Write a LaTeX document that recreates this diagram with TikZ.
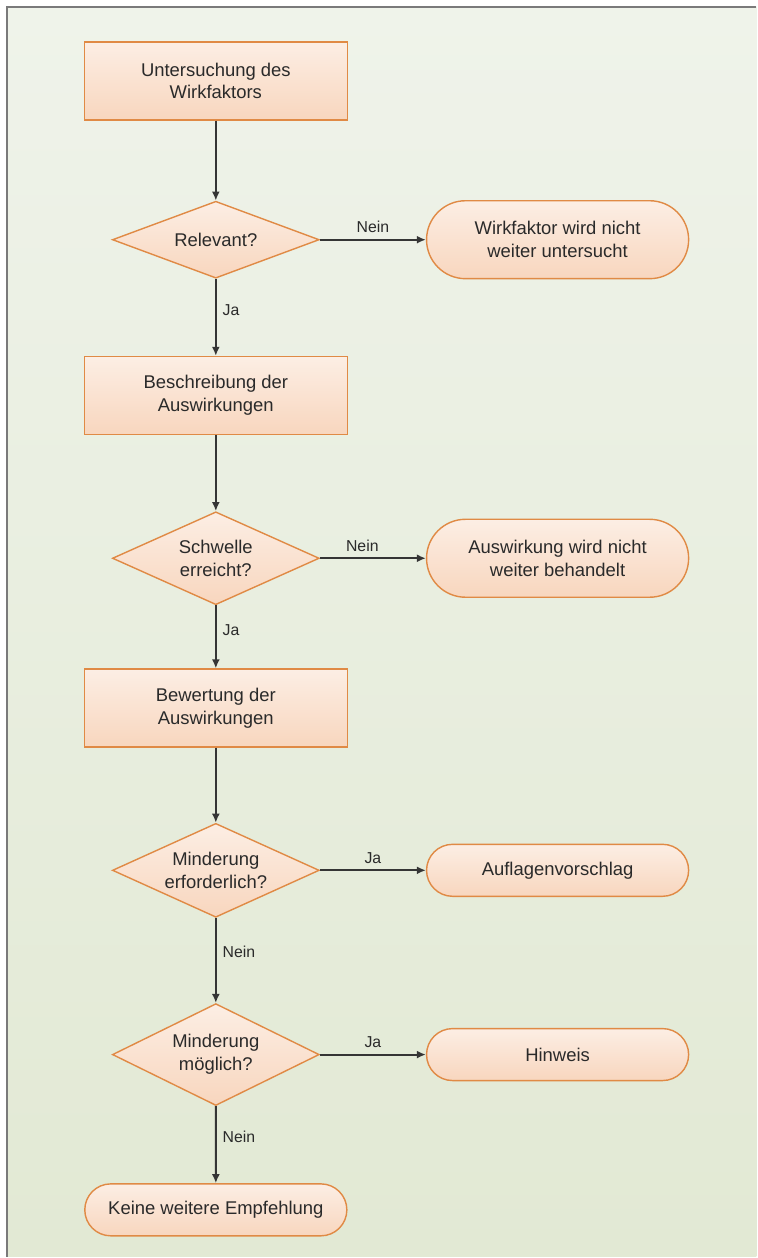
\documentclass[tikz,border=0pt]{standalone}
\usepackage{fontspec}
\setmainfont{Liberation Sans}
\usepackage{xcolor}
\usepackage{tikz}
\usetikzlibrary{arrows.meta,positioning,shapes.geometric,shapes.misc}
\definecolor{nodetop}{HTML}{FCEEE4}
\definecolor{nodebottom}{HTML}{F8D6BE}
\definecolor{nodeline}{HTML}{E08A45}
\definecolor{linegray}{HTML}{353535}
\definecolor{textgray}{HTML}{2A2A2A}
\definecolor{bgtop}{HTML}{EFF3EA}
\definecolor{bgbottom}{HTML}{E2E9D4}
\definecolor{framegray}{HTML}{7A7A7A}

\begin{document}
\begin{tikzpicture}[
  x=0.2mm, y=-0.2mm,
  box/.style={draw=nodeline, thick, top color=nodetop, bottom color=nodebottom, align=center, minimum width=52.6mm, minimum height=15.6mm, font=\fontsize{10.5}{13}\selectfont, text=textgray},
  decision/.style={box, shape=diamond, shape aspect=2.25, inner sep=0pt, minimum width=41.4mm, minimum height=15.4mm},
  terminal/.style={box, rounded rectangle, minimum width=54.8mm},
  arrow/.style={-{Latex[length=1.8mm,width=1.6mm]}, line width=1.1pt, draw=linegray},
  lbl/.style={font=\fontsize{9}{11}\selectfont, text=textgray}]
% background and frame
\fill[white] (0,0) rectangle (757,1258);
\shade[top color=bgtop, bottom color=bgbottom] (7,7) rectangle (757,1258);
\draw[framegray, line width=1.2pt] (7,1258) -- (7,7) -- (757,7);
\useasboundingbox (0,0) rectangle (757,1258);
% main column
\node[box] (untersuchung) at (216,81) {Untersuchung des\\Wirkfaktors};
\node[decision, below=16mm of untersuchung] (relevant) {Relevant?};
\node[terminal, right=21.2mm of relevant] (nichtunters) {Wirkfaktor wird nicht\\weiter untersucht};
\node[box, below=15.4mm of relevant] (beschreibung) {Beschreibung der\\Auswirkungen};
\node[decision, below=15.2mm of beschreibung, minimum height=18.6mm] (schwelle) {Schwelle\\erreicht?};
\node[terminal, right=21.2mm of schwelle] (nichtbeh) {Auswirkung wird nicht\\weiter behandelt};
\node[box, below=12.6mm of schwelle] (bewertung) {Bewertung der\\Auswirkungen};
\node[decision, below=15.0mm of bewertung, minimum height=18.8mm] (erforderlich) {Minderung\\erforderlich?};
\node[terminal, right=21.2mm of erforderlich, minimum height=10.4mm] (auflagen) {Auflagenvorschlag};
\node[decision, below=17.0mm of erforderlich, minimum height=20.4mm] (moeglich) {Minderung\\möglich?};
\node[terminal, right=21.2mm of moeglich, minimum height=10.4mm] (hinweis) {Hinweis};
\node[terminal, below=15.4mm of moeglich, minimum height=10.4mm] (keine) {Keine weitere Empfehlung};
% connectors
\draw[arrow] (untersuchung) -- (relevant);
\draw[arrow] (relevant) -- node[lbl, above] {Nein} (nichtunters);
\draw[arrow] (relevant) -- node[lbl, right, pos=0.4] {Ja} (beschreibung);
\draw[arrow] (beschreibung) -- (schwelle);
\draw[arrow] (schwelle) -- node[lbl, above, pos=0.4] {Nein} (nichtbeh);
\draw[arrow] (schwelle) -- node[lbl, right, pos=0.4] {Ja} (bewertung);
\draw[arrow] (bewertung) -- (erforderlich);
\draw[arrow] (erforderlich) -- node[lbl, above] {Ja} (auflagen);
\draw[arrow] (erforderlich) -- node[lbl, right, pos=0.4] {Nein} (moeglich);
\draw[arrow] (moeglich) -- node[lbl, above] {Ja} (hinweis);
\draw[arrow] (moeglich) -- node[lbl, right, pos=0.4] {Nein} (keine);
\end{tikzpicture}
\end{document}
